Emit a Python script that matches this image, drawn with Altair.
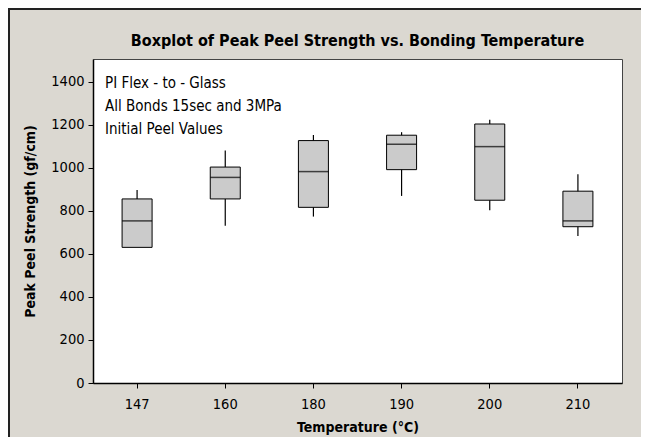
import altair as alt
import pandas as pd

temps = ["147", "160", "180", "190", "200", "210"]
lower = [630, 730, 773, 869, 802, 683]
q1 = [630, 855, 816, 991, 849, 726]
median = [753, 955, 982, 1109, 1098, 753]
q3 = [855, 1003, 1126, 1151, 1203, 891]
upper = [897, 1080, 1152, 1165, 1223, 970]

title_text = "Boxplot of Peak Peel Strength vs. Bonding Temperature"
note_lines = ["PI Flex - to - Glass", "All Bonds 15sec and 3MPa", "Initial Peel Values"]
y_ticks = [0, 200, 400, 600, 800, 1000, 1200, 1400]

df = pd.DataFrame({"temp": temps, "lower": lower, "q1": q1, "median": median,
                   "q3": q3, "upper": upper})

FONT = "DejaVu Sans Condensed, Liberation Sans Narrow, sans-serif"

xenc = alt.X("temp:N", sort=temps,
             scale=alt.Scale(paddingInner=0, paddingOuter=0),
             axis=alt.Axis(title="Temperature (°C)", labelAngle=0, labelPadding=9,
                           titlePadding=10))
yscale = alt.Scale(domain=[0, 1505], nice=False, zero=True)
yaxis = alt.Axis(title="Peak Peel Strength (gf/cm)", values=y_ticks, format="d",
                 titlePadding=13, labelPadding=4)

base = alt.Chart(df)

boxes = base.mark_bar(size=30, fill="#cbcbcb", stroke="black", strokeWidth=1).encode(
    x=xenc, y=alt.Y("q1:Q", scale=yscale, axis=yaxis), y2="q3:Q")
wh_up = base.mark_rule(color="black", strokeWidth=1.2).encode(
    x=xenc, y=alt.Y("q3:Q", scale=yscale), y2="upper:Q")
wh_lo = base.mark_rule(color="black", strokeWidth=1.2).encode(
    x=xenc, y=alt.Y("lower:Q", scale=yscale), y2="q1:Q")
med = base.mark_tick(size=30, thickness=1.5, color="black").encode(
    x=xenc, y=alt.Y("median:Q", scale=yscale))

one = pd.DataFrame({"k": [0]})

note = alt.Chart(one).mark_text(
    text=note_lines, align="left", baseline="alphabetic", font=FONT, fontSize=15,
    lineHeight=23, color="black").encode(x=alt.value(12), y=alt.value(29))

title = alt.Chart(one).mark_text(
    text=title_text, align="center", baseline="alphabetic", font=FONT, fontSize=16,
    fontWeight="bold", color="black").encode(x=alt.value(264.5), y=alt.value(-13))

border_left = alt.Chart(one).mark_rule(
    color="#222", strokeWidth=2).encode(x=alt.value(-84), y=alt.value(-51), y2=alt.value(380))
border_top = alt.Chart(one).mark_rule(
    color="#222", strokeWidth=2).encode(x=alt.value(-85), x2=alt.value(550), y=alt.value(-50))

chart = alt.layer(boxes, wh_up, wh_lo, med, note, title, border_left, border_top).properties(
    width=529, height=324,
    background="#dbd8d1",
    autosize=alt.AutoSizeParams(type="none"),
    padding={"left": 85, "top": 51, "right": 19, "bottom": 54},
).configure_view(fill="white", stroke="#444", strokeWidth=1).configure_axis(
    labelFont=FONT, labelFontSize=14.5, labelColor="black",
    titleFont=FONT, titleFontSize=14, titleFontWeight="bold", titleColor="black",
    domainColor="black", domainWidth=1.5, tickColor="black", tickSize=5, tickWidth=1,
    grid=False)

chart.save("out.html", embed_options={"renderer": "svg", "actions": False})
